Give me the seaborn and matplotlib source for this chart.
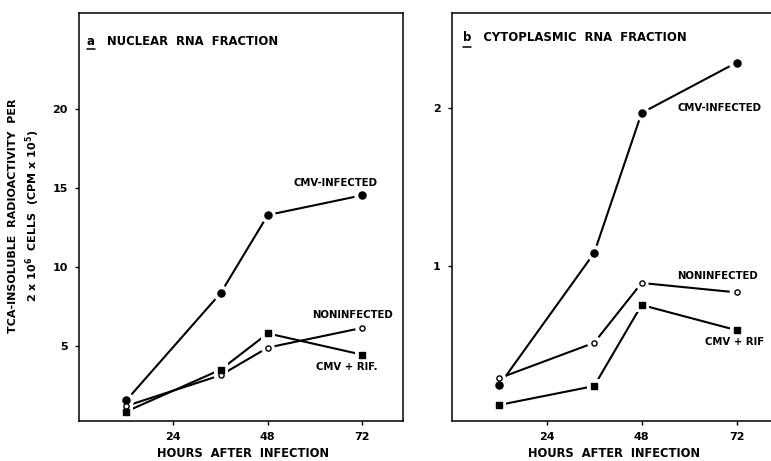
import matplotlib
matplotlib.use("Agg")
import matplotlib.pyplot as plt
import pandas as pd
import seaborn as sns

# ---- data ----
hours = [12, 36, 48, 72]
nuc_cmv = [1.55, 8.35, 13.3, 14.55]
nuc_non = [1.2, 3.15, 4.9, 6.15]
nuc_rif = [0.85, 3.5, 5.8, 4.45]
cyt_cmv = [0.24, 1.08, 1.97, 2.29]
cyt_non = [0.285, 0.51, 0.89, 0.83]
cyt_rif = [0.115, 0.235, 0.75, 0.59]
x_ticks = [24, 48, 72]
nuc_yticks = [5, 10, 15, 20]
cyt_yticks = [1, 2]

sns.set_style("ticks")
plt.rcParams['font.family'] = ['DejaVu Sans']
plt.rcParams['font.weight'] = 'bold'
for k in ('text.color', 'axes.labelcolor', 'xtick.color', 'ytick.color',
          'axes.edgecolor'):
    plt.rcParams[k] = 'black'

W, H = 771, 461
fig = plt.figure(figsize=(W / 100, H / 100), dpi=100)

def frac(x0, y0, x1, y1):
    return [x0 / W, 1 - y1 / H, (x1 - x0) / W, (y1 - y0) / H]

ax1 = fig.add_axes(frac(79, 13, 402.7, 421))
ax2 = fig.add_axes(frac(451.7, 13, 771, 421))

styles = {
    'cmv': dict(marker='o', s=26, fill='black', halo=130),
    'non': dict(marker='o', s=14, fill='white', halo=100),
    'rif': dict(marker='s', s=17, fill='black', halo=100),
}

def draw(ax, series):
    for key, vals in series:
        st = styles[key]
        df = pd.DataFrame({'hours': hours, 'value': vals})
        sns.lineplot(data=df, x='hours', y='value', ax=ax, color='black',
                     linewidth=1.5, zorder=2)
        sns.scatterplot(data=df, x='hours', y='value', ax=ax, marker=st['marker'],
                        s=st['halo'], color='white', edgecolor='none', zorder=3)
        sns.scatterplot(data=df, x='hours', y='value', ax=ax, marker=st['marker'],
                        s=st['s'], color=st['fill'], edgecolor='black',
                        linewidth=1.0, zorder=4)

draw(ax1, [('cmv', nuc_cmv), ('non', nuc_non), ('rif', nuc_rif)])
draw(ax2, [('cmv', cyt_cmv), ('non', cyt_non), ('rif', cyt_rif)])

ax1.set_xlim(0, 82.3)
ax1.set_ylim(0.25, 26.1)
ax2.set_xlim(0, 80.7)
ax2.set_ylim(0.013, 2.605)

for ax, yt in ((ax1, nuc_yticks), (ax2, cyt_yticks)):
    ax.set_xticks(x_ticks)
    ax.set_yticks(yt)
    ax.set_xlabel('')
    ax.set_ylabel('')
    ax.tick_params(axis='both', direction='out', length=3, width=1,
                   labelsize=8, pad=5, color='black', labelcolor='black')
    for lab in ax.get_xticklabels() + ax.get_yticklabels():
        lab.set_fontweight('bold')
    for sp in ax.spines.values():
        sp.set_linewidth(1.1)
        sp.set_color('black')
        sp.set_visible(True)
ax2.spines['right'].set_visible(False)

tk = dict(fontsize=7.3, fontweight='bold', ha='center', va='center', color='black')
ax1.text(65.1, 15.3, 'CMV-INFECTED', **tk)
ax1.text(69.5, 6.96, 'NONINFECTED', **tk)
ax1.text(68.2, 3.67, 'CMV + RIF.', **tk)
ax2.text(67.8, 2.0, 'CMV-INFECTED', **tk)
ax2.text(67.3, 0.935, 'NONINFECTED', **tk)
ax2.text(71.6, 0.515, 'CMV + RIF', **tk)

# panel titles with underlined letter
ttl = dict(fontsize=8.4, fontweight='bold', ha='left', va='center', color='black')
ax1.text(0.025, 0.931, 'a   NUCLEAR  RNA  FRACTION', transform=ax1.transAxes, **ttl)
ax1.plot([0.025, 0.048], [0.911, 0.911], transform=ax1.transAxes, color='black', lw=1.1)
ax2.text(0.034, 0.939, 'b   CYTOPLASMIC  RNA  FRACTION', transform=ax2.transAxes, **ttl)
ax2.plot([0.034, 0.059], [0.917, 0.917], transform=ax2.transAxes, color='black', lw=1.1)

# axis labels
fig.text(243 / W, 1 - 453 / H, 'HOURS  AFTER  INFECTION', fontsize=8.3,
         fontweight='bold', ha='center', va='center', color='black')
fig.text(614 / W, 1 - 453 / H, 'HOURS  AFTER  INFECTION', fontsize=8.3,
         fontweight='bold', ha='center', va='center', color='black')
fig.text(25 / W, 1 - 216 / H,
         'TCA-INSOLUBLE  RADIOACTIVITY  PER\n2 x 10$^6$  CELLS  (CPM x 10$^5$)',
         fontsize=8.0, fontweight='bold', rotation=90, ha='center', va='center',
         multialignment='center', linespacing=1.4, color='black')

fig.savefig('out.png', dpi=100)
